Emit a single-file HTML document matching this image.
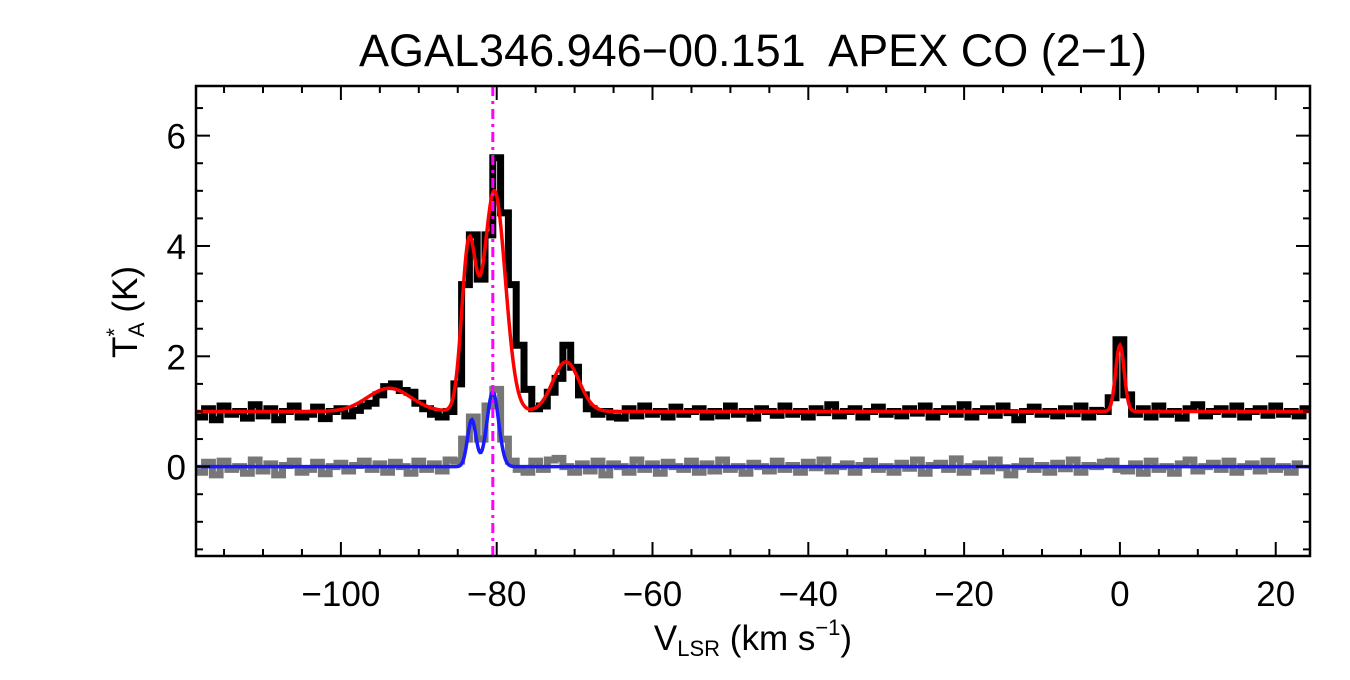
<!DOCTYPE html>
<html><head><meta charset="utf-8"><style>
body{margin:0;background:#fff;}
svg text{font-family:"Liberation Sans",sans-serif;fill:#000;}
</style></head><body>
<svg id="c" width="1350" height="675" viewBox="0 0 1350 675" xmlns="http://www.w3.org/2000/svg">
<text x="753" y="66" font-size="45" text-anchor="middle" xml:space="preserve">AGAL346.946−00.151  APEX CO (2−1)</text>
<g id="plot"></g>
<text x="753" y="650" font-size="35" text-anchor="middle">V<tspan font-size="22" dy="6">LSR</tspan><tspan dy="-6"> (km s</tspan><tspan font-size="22" dy="-15">−1</tspan><tspan dy="15">)</tspan></text>
<text transform="translate(137,312) rotate(-90)" font-size="35" text-anchor="middle">T<tspan font-size="22" dy="-15">*</tspan><tspan font-size="22" dx="-9" dy="22">A</tspan><tspan dy="-7"> (K)</tspan></text>
</svg>
<script>
const vStart=-118, vStep=1;
const blackVals=[0.9,1.05,0.85,1.1,0.95,1.0,0.88,1.12,0.92,1.05,0.85,1.0,1.1,0.9,0.95,1.08,0.87,1.0,1.05,0.92,1.02,1.1,1.15,1.3,1.45,1.5,1.38,1.35,1.15,1.05,0.95,0.9,1.0,1.5,3.3,4.2,3.4,4.2,5.6,4.6,3.3,2.2,1.4,1.05,1.1,1.35,1.6,2.2,1.8,1.3,1.05,0.95,1.0,0.9,0.88,1.05,0.92,1.1,0.95,1.0,0.9,1.08,0.95,1.0,1.05,0.9,1.0,0.92,1.1,0.95,1.0,0.88,1.05,1.0,0.93,1.1,0.95,1.0,0.9,1.05,0.98,1.12,0.92,1.0,1.05,0.9,1.0,1.08,0.95,1.0,0.92,1.05,0.97,1.1,0.9,1.0,1.05,0.95,1.12,0.9,1.0,1.05,0.93,1.1,0.98,0.85,1.0,1.08,0.95,1.0,0.92,1.05,0.96,1.1,0.9,1.02,1.0,1.25,2.3,1.3,0.95,1.05,0.9,1.1,0.95,1.0,0.88,1.05,1.12,0.92,1.0,1.05,0.95,1.1,0.9,1.0,1.05,0.93,1.1,0.95,1.0,0.92,1.05];
const grayVals=[-0.1,0.08,-0.15,0.1,-0.05,0.0,-0.12,0.12,-0.08,0.05,-0.15,0.02,0.1,-0.1,-0.05,0.08,-0.13,0.0,0.06,-0.08,0.02,0.1,-0.05,0.05,-0.1,0.08,0.0,-0.12,0.1,-0.05,0.05,-0.08,0.12,0.1,0.5,0.9,0.5,1.1,1.4,0.5,0.1,-0.05,-0.1,0.1,-0.05,0.12,0.15,0.0,-0.1,0.05,-0.08,0.1,-0.15,0.05,0.0,-0.1,0.12,-0.05,0.05,-0.12,0.08,0.0,-0.05,0.1,-0.1,0.05,-0.08,0.12,-0.05,0.0,-0.12,0.06,0.0,-0.08,0.1,-0.05,0.02,-0.1,0.08,-0.02,0.12,-0.08,0.0,0.05,-0.1,0.02,0.1,-0.05,0.0,-0.1,0.06,-0.03,0.12,-0.12,0.02,0.06,-0.05,0.14,-0.1,0.0,0.05,-0.08,0.12,-0.02,-0.15,0.0,0.1,-0.05,0.02,-0.1,0.06,-0.04,0.12,-0.1,0.02,0.0,0.08,0.1,-0.05,-0.08,0.05,-0.12,0.1,-0.05,0.0,-0.12,0.05,0.12,-0.08,0.0,0.06,-0.05,0.1,-0.1,0.0,0.05,-0.08,0.1,-0.05,0.0,-0.1,0.05];
const redCenters=[-93.8,-83.6,-80.3,-71.1,0.0];
const redAmps=[0.42,2.9,4.0,0.9,1.2];
const redSigmas=[2.8,0.9,1.4,1.7,0.55];
const redBase=[1.0];
const blueCenters=[-83.2,-80.5];
const blueAmps=[0.85,1.35];
const blueSigmas=[0.55,0.75];
const xTicks=[-100,-80,-60,-40,-20,0,20];
const yTicks=[0,2,4,6];
const vLineVel=[-80.5];

const L=196,R=1310,T=86,B=556,xmin=-118.6,xmax=24.4,ymin=-1.62,ymax=6.9;
const X=v=>L+(v-xmin)/(xmax-xmin)*(R-L);
const Y=t=>B-(t-ymin)/(ymax-ymin)*(B-T);
const NS="http://www.w3.org/2000/svg";
const g=document.getElementById('plot');
function mk(tag,attrs){const e=document.createElementNS(NS,tag);for(const k in attrs)e.setAttribute(k,attrs[k]);g.appendChild(e);return e;}
const defs=mk('defs',{});
const cp=document.createElementNS(NS,'clipPath');cp.setAttribute('id','clip');
const cr=document.createElementNS(NS,'rect');cr.setAttribute('x',L);cr.setAttribute('y',T);cr.setAttribute('width',R-L);cr.setAttribute('height',B-T);cp.appendChild(cr);
defs.appendChild(cp);
function stepPath(vals){let d='';vals.forEach((t,i)=>{const v=vStart+i*vStep;const x0=X(v-vStep/2),x1=X(v+vStep/2);d+=(i?'L':'M')+x0.toFixed(1)+','+Y(t).toFixed(1)+'L'+x1.toFixed(1)+','+Y(t).toFixed(1);});return d;}
function model(base,c,a,s){let d='';for(let px=L;px<=R;px+=1){const v=xmin+(px-L)/(R-L)*(xmax-xmin);let t=base;for(let k=0;k<c.length;k++)t+=a[k]*Math.exp(-0.5*((v-c[k])/s[k])**2);d+=(px===L?'M':'L')+px+','+Y(t).toFixed(1);}return d;}
const gp=mk('path',{d:stepPath(grayVals),fill:'none',stroke:'#777','stroke-width':7,'clip-path':'url(#clip)'});


const bp=mk('path',{d:stepPath(blackVals),fill:'none',stroke:'#000','stroke-width':7,'clip-path':'url(#clip)'});


const blp=mk('path',{d:model(0,blueCenters,blueAmps,blueSigmas),fill:'none',stroke:'#1a1aff','stroke-width':3.5});


const rp=mk('path',{d:model(redBase[0],redCenters,redAmps,redSigmas),fill:'none',stroke:'#ff0000','stroke-width':3.5});


const vl=mk('line',{x1:X(vLineVel[0]),x2:X(vLineVel[0]),y1:T,y2:B,stroke:'#ff00ff','stroke-width':3,'stroke-dasharray':'10,5,3,5'});


const fr=mk('rect',{x:L,y:T,width:R-L,height:B-T,fill:'none',stroke:'#000','stroke-width':2.5});


for(let v=-115;v<=20;v+=5){const x=X(v);const major=v%20===0;const len=major?14:7;
 mk('line',{x1:x,x2:x,y1:B,y2:B-len,stroke:'#000','stroke-width':2});
 mk('line',{x1:x,x2:x,y1:T,y2:T+len,stroke:'#000','stroke-width':2});}
xTicks.forEach(v=>{const t=mk('text',{x:X(v),y:B+50,'font-size':35,'text-anchor':'middle'});t.textContent=v<0?'−'+(-v):String(v);

});
for(let y=-1.5;y<=6.5;y+=0.5){const py=Y(y);const major=Math.abs(y%2)<1e-6;const len=major?14:7;
 mk('line',{x1:L,x2:L+len,y1:py,y2:py,stroke:'#000','stroke-width':2});
 mk('line',{x1:R,x2:R-len,y1:py,y2:py,stroke:'#000','stroke-width':2});}
yTicks.forEach(y=>{const t=mk('text',{x:186,y:Y(y)+13,'font-size':35,'text-anchor':'end'});t.textContent=String(y);

});
</script>
</body></html>
